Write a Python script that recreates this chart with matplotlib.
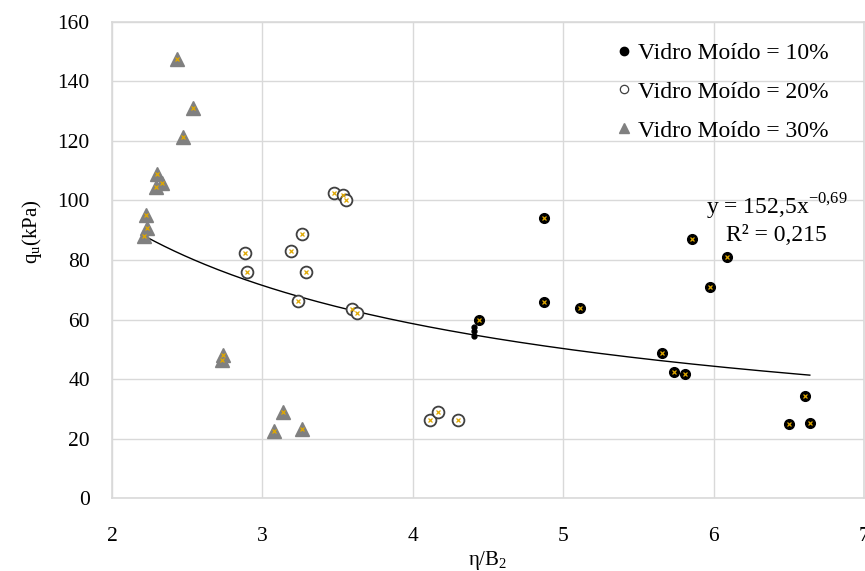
import matplotlib
matplotlib.use("Agg")
import matplotlib.pyplot as plt
import numpy as np

plt.rcParams["font.family"] = ["Liberation Serif", "DejaVu Serif"]
plt.rcParams["mathtext.fontset"] = "custom"
plt.rcParams["mathtext.rm"] = "Liberation Serif"

# Vidro Moído = 10%
x10 = [4.44, 4.87, 5.11, 5.975, 5.66, 5.74, 5.81, 6.605, 6.50, 6.64, 4.87, 5.856, 6.088]
y10 = [60.0, 66.0, 63.8, 71.0, 48.7, 42.2, 41.6, 34.3, 24.8, 25.3, 94.0, 87.1, 80.9]
# small marks stacked under the 4.44 point
x10_small = [4.41, 4.41, 4.41]
y10_small = [57.5, 56.0, 54.5]

# Vidro Moído = 20%
x20 = [2.886, 2.90, 3.19, 3.26, 3.29, 3.477, 3.537, 3.555, 3.238, 3.597, 3.63, 4.117, 4.17, 4.30]
y20 = [82.2, 76.1, 83.1, 88.6, 76.1, 102.5, 101.8, 100.2, 66.2, 63.4, 62.1, 26.1, 29.0, 26.1]

# Vidro Moído = 30%
x30 = [2.43, 2.54, 2.47, 2.30, 2.33, 2.29, 2.226, 2.23, 2.215, 2.74, 2.73, 3.14, 3.08, 3.26]
y30 = [147.5, 131.0, 121.2, 109.0, 106.0, 104.4, 95.1, 90.9, 88.0, 48.0, 46.5, 28.8, 22.5, 23.2]

# power trendline y = a * x^b shown in the chart
trend_a = 152.5
trend_b = -0.69
trend_x0, trend_x1 = 2.215, 6.64

labels = ["Vidro Moído = 10%", "Vidro Moído = 20%", "Vidro Moído = 30%"]
gold = "#e0a800"
grid_c = "#d9d9d9"

fig = plt.figure(figsize=(8.65, 5.71), dpi=100)
ax = fig.add_axes([0.1295, 0.1278, 0.8693, 0.8337])

tx = np.linspace(trend_x0, trend_x1, 200)
ax.plot(tx, trend_a * tx ** trend_b, color="black", lw=1.0, zorder=2)

ax.plot(x30, y30, ls="none", marker="^", ms=9.5, mfc="#808080", mec="#808080", zorder=3)
ax.plot(x30, y30, ls="none", marker="x", ms=3, mew=0.9, color=gold, zorder=4)

ax.plot(x20, y20, ls="none", marker="o", ms=8.5, mfc="white", mec="#404040", mew=1.3, zorder=3)
ax.plot(x20, y20, ls="none", marker="x", ms=3, mew=0.9, color=gold, zorder=4)

ax.plot(x10_small, y10_small, ls="none", marker="o", ms=3.5, mfc="black", mec="black", zorder=3)
ax.plot(x10, y10, ls="none", marker="o", ms=7, mfc="black", mec="black", zorder=3)
ax.plot(x10, y10, ls="none", marker="x", ms=2.6, mew=0.9, color=gold, zorder=4)

# legend handles without the inner crosses
h1, = ax.plot([], [], ls="none", marker="o", ms=6, mfc="black", mec="black")
h2, = ax.plot([], [], ls="none", marker="o", ms=6, mfc="white", mec="#404040", mew=0.9)
h3, = ax.plot([], [], ls="none", marker="^", ms=7, mfc="#808080", mec="#808080")
ax.legend([h1, h2, h3], labels, loc="upper right", bbox_to_anchor=(0.953, 0.957),
          frameon=False, fontsize=17, handlelength=0.6, handletextpad=0.3,
          labelspacing=0.73, borderpad=0, borderaxespad=0)

ax.text(6.42, 97.8, "y = 152,5x$^{\\mathregular{-0{,}69}}$", fontsize=17, ha="center", va="center")
ax.text(6.42, 88.4, "R² = 0,215", fontsize=17, ha="center", va="center")

ax.set_xlim(2, 7)
ax.set_ylim(0, 160)
ax.set_xticks(range(2, 8))
ax.set_yticks(range(0, 161, 20))
ax.grid(True, color=grid_c, lw=1.0)
ax.set_axisbelow(True)
for s in ax.spines.values():
    s.set_color(grid_c)
    s.set_linewidth(1.2)
ax.tick_params(length=0, labelsize=15.5, colors="black")
ax.tick_params(axis="x", pad=21)
ax.tick_params(axis="y", pad=16)

fig.text(488 / 865, 1 - 560 / 571, "η/B$_\\mathregular{2}$", fontsize=15, ha="center", va="center")
fig.text(32 / 865, 1 - 232 / 571, "q$_\\mathregular{u}$(kPa)", fontsize=15, ha="center", va="center",
         rotation=90)

fig.savefig("out.png", dpi=100)
